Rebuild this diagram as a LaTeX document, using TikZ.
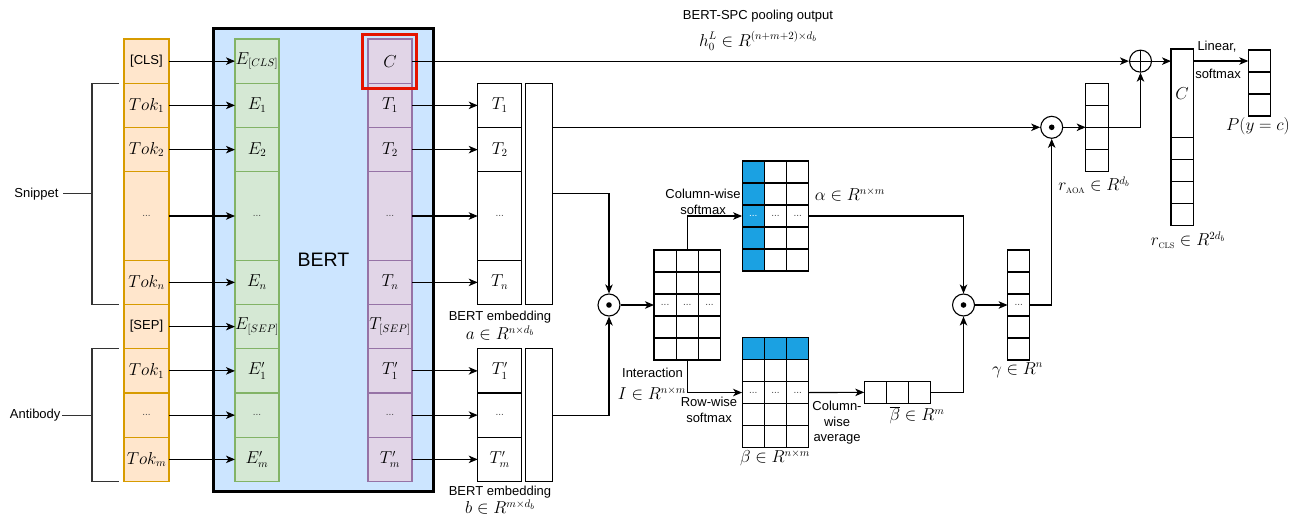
\documentclass[tikz,border=0pt]{standalone}
\usepackage[no-math]{fontspec}
\setmainfont{Liberation Sans}
\usetikzlibrary{arrows.meta,positioning}
\definecolor{tokfill}{HTML}{FFE6CC}
\definecolor{tokdraw}{HTML}{D79B00}
\definecolor{embfill}{HTML}{D5E8D4}
\definecolor{embdraw}{HTML}{82B366}
\definecolor{outfill}{HTML}{E1D5E7}
\definecolor{outdraw}{HTML}{9673A6}
\definecolor{bertfill}{HTML}{CCE5FF}
\definecolor{attn}{HTML}{1BA1E2}
\definecolor{hilite}{HTML}{E51400}
\newcommand{\mth}[1]{{\fontsize{16}{19}\selectfont$#1$}}
\newcommand{\dts}[1][black!70]{{\color{#1}\fontsize{10}{12}\selectfont...}}

\begin{document}
\begin{tikzpicture}[
    x=1pt,y=-1pt,
    line width=1.1pt,
    node distance=0pt,
    font=\fontsize{13}{15.5}\selectfont,
    tok/.style={draw=tokdraw,fill=tokfill,minimum width=45pt,minimum height=44.25pt,inner sep=0pt,outer sep=0pt},
    emb/.style={draw=embdraw,fill=embfill,minimum width=44pt,minimum height=44.25pt,inner sep=0pt,outer sep=0pt},
    hid/.style={draw=outdraw,fill=outfill,minimum width=44pt,minimum height=44.25pt,inner sep=0pt,outer sep=0pt},
    seqbox/.style={draw,fill=white,minimum width=44pt,minimum height=44.25pt,inner sep=0pt,outer sep=0pt},
    cell/.style={draw,fill=white,minimum width=22.2pt,minimum height=22pt,inner sep=0pt,outer sep=0pt},
    odot/.style={circle,draw,fill=white,minimum size=22pt,inner sep=0pt,
        path picture={\fill[black] (path picture bounding box.center) circle (2.8pt);}},
    oplus/.style={circle,draw,fill=white,minimum size=22pt,inner sep=0pt,
        path picture={\draw (path picture bounding box.north) -- (path picture bounding box.south)
            (path picture bounding box.west) -- (path picture bounding box.east);}},
    brace/.style={draw=black!80},
    >={Stealth[length=9pt,width=7.5pt,inset=2.5pt]}
]
\useasboundingbox (0,0) rectangle (1298,516);

% BERT block
\node[draw,fill=bertfill,line width=2.5pt,minimum width=220pt,minimum height=463pt,
    font=\fontsize{19.5}{23}\selectfont] (bert) at (323.5,260) {BERT};

% input tokens
\node[tok] (tok-cls) at (146.5,61.125) {[CLS]};
\node[tok,below=of tok-cls] (tok-1) {\mth{Tok_1}};
\node[tok,below=of tok-1] (tok-2) {\mth{Tok_2}};
\node[tok,below=of tok-2,minimum height=88.5pt] (tok-d) {\dts};
\node[tok,below=of tok-d] (tok-n) {\mth{Tok_n}};
\node[tok,below=of tok-n] (tok-sep) {[SEP]};
\node[tok,below=of tok-sep] (tok-s1) {\mth{Tok_1}};
\node[tok,below=of tok-s1] (tok-sd) {\dts};
\node[tok,below=of tok-sd] (tok-sm) {\mth{Tok_m}};

% embeddings
\node[emb] (e-cls) at (257,61.125) {\mth{E_{[CLS]}}};
\node[emb,below=of e-cls] (e-1) {\mth{E_1}};
\node[emb,below=of e-1] (e-2) {\mth{E_2}};
\node[emb,below=of e-2,minimum height=88.5pt] (e-d) {\dts};
\node[emb,below=of e-d] (e-n) {\mth{E_n}};
\node[emb,below=of e-n] (e-sep) {\mth{E_{[SEP]}}};
\node[emb,below=of e-sep] (e-s1) {\mth{E'_1}};
\node[emb,below=of e-s1] (e-sd) {\dts};
\node[emb,below=of e-sd] (e-sm) {\mth{E'_m}};

% hidden outputs
\node[hid] (t-c) at (390,61.125) {\mth{C}};
\node[hid,below=of t-c] (t-1) {\mth{T_1}};
\node[hid,below=of t-1] (t-2) {\mth{T_2}};
\node[hid,below=of t-2,minimum height=88.5pt] (t-d) {\dts};
\node[hid,below=of t-d] (t-n) {\mth{T_n}};
\node[hid,below=of t-n] (t-sep) {\mth{T_{[SEP]}}};
\node[hid,below=of t-sep] (t-s1) {\mth{T'_1}};
\node[hid,below=of t-s1] (t-sd) {\dts};
\node[hid,below=of t-sd] (t-sm) {\mth{T'_m}};

\node[draw=hilite,line width=2.5pt,minimum size=54pt] (cls-box) at (389.5,61.5) {};

% brackets
\coordinate (snip-brace) at (92,193.875);
\coordinate (anti-brace) at (92,415.125);
\draw[brace] ([xshift=-5pt]tok-1.north west) -| (snip-brace) |- ([xshift=-5pt]tok-n.south west);
\draw[brace] ([xshift=-5pt]tok-s1.north west) -| (anti-brace) |- ([xshift=-5pt]tok-sm.south west);
\node[anchor=east,inner sep=4pt] (snip-lab) at (63,193.875) {Snippet};
\node[anchor=east,inner sep=1pt] (anti-lab) at (62,415.125) {Antibody};
\draw[brace] (snip-lab.east) -- (snip-brace);
\draw[brace] (anti-lab.east) -- (anti-brace);

\foreach \n in {cls,1,2,d,n,sep,s1,sd,sm}
    \draw[->] (tok-\n) -- (e-\n);

% BERT embedding a and b
\node[seqbox] (a-1) at (499.7,105.375) {\mth{T_1}};
\node[seqbox,below=of a-1] (a-2) {\mth{T_2}};
\node[seqbox,below=of a-2,minimum height=88.5pt] (a-d) {\dts};
\node[seqbox,below=of a-d] (a-n) {\mth{T_n}};
\node[seqbox,minimum width=27pt,minimum height=221.25pt,anchor=north west] (a-r) at (525.7,83.25) {};
\node (a-lab) at (500,317) {BERT embedding};
\node (a-dim) at (500,333) {\mth{a\in R^{n\times d_b}}};

\node[seqbox] (b-1) at (499.7,370.875) {\mth{T'_1}};
\node[seqbox,below=of b-1] (b-d) {\dts};
\node[seqbox,below=of b-d] (b-m) {\mth{T'_m}};
\node[seqbox,minimum width=27pt,minimum height=132.75pt,anchor=north west] (b-r) at (525.7,348.75) {};
\node (b-lab) at (500,492) {BERT embedding};
\node (b-dim) at (500,507) {\mth{b\in R^{m\times d_b}}};

\foreach \n in {1,2,d,n}
    \draw[->] (t-\n) -- (a-\n);
\foreach \n/\m in {s1/1,sd/d,sm/m}
    \draw[->] (t-\n) -- (b-\m);

% interaction
\node[odot] (dot-I) at (609,305) {};
\draw[->] (a-r.east) -| (dot-I.north);
\draw[->] (b-r.east) -| (dot-I.south);

\foreach \c in {1,2,3}
    \foreach \r/\t in {1/{},2/{},3/\dts,4/{},5/{}}
        \node[cell] (I-\c-\r) at ({654+22.23*(\c-0.5)},{250+22*(\r-0.5)}) {\t};
\draw[->] (dot-I) -- (I-1-3.west);
\node (I-lab) at (652.5,373) {Interaction};
\node (I-dim) at (652,394) {\mth{I\in R^{n\times m}}};

% alpha
\foreach \c/\f/\dc in {1/attn/white,2/white/black!70,3/white/black!70}
    \foreach \r/\t in {1/{},2/{},3/{\dts[\dc]},4/{},5/{}}
        \node[cell,fill=\f] (al-\c-\r) at ({742+22.33*(\c-0.5)},{161+22*(\r-0.5)}) {\t};
\draw[->] (I-2-1.north) |- (al-1-3.west);
\node[align=center] (col-lab) at (703,202) {Column-wise\\softmax};
\node[anchor=west] (al-dim) at (811,195) {\mth{\alpha\in R^{n\times m}}};

% beta
\foreach \c in {1,2,3}
    \foreach \r/\f/\t in {1/attn/{},2/white/{},3/white/\dts,4/white/{},5/white/{}}
        \node[cell,fill=\f] (be-\c-\r) at ({742+22.33*(\c-0.5)},{337.3+22.1*(\r-0.5)}) {\t};
\draw[->] (I-2-5.south) |- (be-1-3.west);
\node[align=center] (row-lab) at (709,410) {Row-wise\\softmax};
\node (be-dim) at (775,458) {\mth{\beta\in R^{n\times m}}};

% column-wise average
\foreach \c in {1,2,3}
    \node[cell] (bar-\c) at ({864.3+22.13*(\c-0.5)},392.35) {};
\draw[->] (be-3-3.east) -- (bar-1.west);
\node[align=center] (avg-lab) at (837,423) {Column-\\wise\\average};
\node (bar-dim) at (917,415) {\mth{\overline{\beta}\in R^m}};

% gamma
\node[odot] (dot-g) at (963.5,305) {};
\draw[->] (al-3-3.east) -| (dot-g.north);
\draw[->] (bar-3.east) -| (dot-g.south);
\foreach \r/\t in {1/{},2/{},3/\dts,4/{},5/{}}
    \node[cell] (g-\r) at (1018.7,{250+22*(\r-0.5)}) {\t};
\draw[->] (dot-g) -- (g-3.west);
\node (g-dim) at (1017.5,370) {\mth{\gamma\in R^n}};

% r_AOA
\node[odot] (dot-r) at (1051.7,127.3) {};
\foreach \r in {1,2,3,4}
    \node[cell,minimum width=22.6pt] (rA-\r) at (1097,{83.3+22*(\r-0.5)}) {};
\draw[->] (a-r.east |- dot-r) -- (dot-r);
\draw[->] (g-3.east) -| (dot-r.south);
\draw[->] (dot-r) -- (rA-2.south west);
\node (rA-dim) at (1094,185) {\mth{r_{\scriptscriptstyle\mathrm{AOA}}\in R^{d_b}}};

% pooling output and r_CLS
\node[oplus] (plus) at (1140.5,61.125) {};
\draw[->] (t-c.east) -- (plus.west);
\draw[->] (rA-2.south east) -| (plus.south);
\node[inner sep=1pt] (pool-lab) at (758,16) {BERT-SPC pooling output};
\node[inner sep=1pt] (pool-dim) at (758,41) {\mth{h_0^L\in R^{(n+m+2)\times d_b}}};

\node[cell,minimum height=88.3pt,anchor=north west] (rC-0) at (1171,49) {\mth{C}};
\foreach \r in {1,2,3,4}
    \node[cell] (rC-\r) at (1182.1,{137.3+22.1*(\r-0.5)}) {};
\draw[->] (plus.east) -- (plus -| rC-0.west);
\node (rC-dim) at (1188,240) {\mth{r_{\scriptscriptstyle\mathrm{CLS}}\in R^{2d_b}}};

% output
\foreach \r in {1,2,3}
    \node[cell,minimum width=22.4pt] (P-\r) at (1259.5,{50+22*(\r-0.5)}) {};
\draw[->] (rC-0.east |- P-1) -- (P-1.west);
\node (lin-lab) at (1217,46.5) {Linear,};
\node (sm-lab) at (1218,73.5) {softmax};
\node (P-dim) at (1258,126.5) {\mth{P(y=c)}};
\end{tikzpicture}
\end{document}
